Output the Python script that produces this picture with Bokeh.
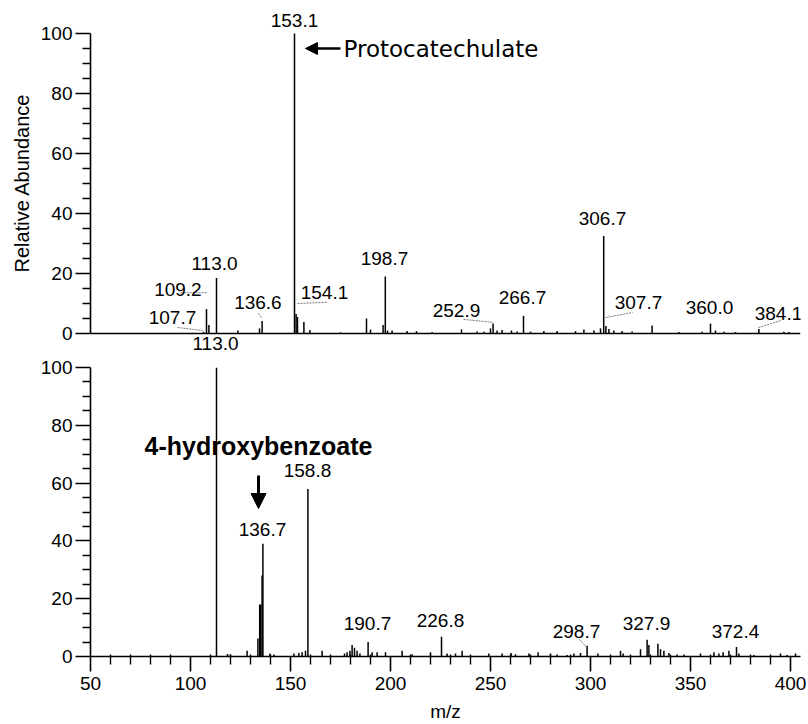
from bokeh.plotting import figure
from bokeh.layouts import column
from bokeh.models import Range1d, FixedTicker, Span, Arrow, NormalHead
from bokeh.embed import file_html
from bokeh.resources import INLINE
from bokeh.core.properties import value

# ---------------- data: upper spectrum (Protocatechulate) ----------------
top_mz = [106.5, 108.0, 109.2, 113.0, 123.7, 134.5, 135.8, 152.0, 152.8, 153.5, 156.7, 159.7,
          175.0, 188.0, 190.0, 196.3, 197.4, 198.5, 200.8, 208.3, 213.0, 220.8, 235.5, 243.3,
          246.7, 250.0, 251.3, 253.3, 255.8, 260.5, 263.3, 266.5, 270.0, 276.7, 283.3,
          292.5, 296.7, 301.7, 305.0, 306.6, 307.7, 309.2, 311.7, 315.8, 320.8, 330.8,
          344.2, 355.8, 360.0, 362.5, 366.7, 372.5, 384.2, 396.7, 399.2]
top_ab = [0.6, 8.2, 2.8, 18.5, 1.0, 1.7, 4.2, 100.0, 6.5, 5.5, 3.8, 1.2,
          0.4, 5.0, 1.3, 2.8, 19.0, 1.0, 1.0, 0.8, 0.8, 0.5, 1.4, 0.7,
          0.6, 1.7, 3.3, 1.0, 1.2, 1.0, 0.7, 5.9, 0.6, 0.8, 0.8,
          0.8, 1.3, 1.0, 1.7, 32.5, 2.5, 1.5, 1.0, 0.8, 0.7, 2.7,
          0.5, 0.6, 3.3, 1.0, 0.6, 0.5, 1.5, 0.6, 0.5]

top_lab_text = ["153.1", "113.0", "109.2", "107.7", "136.6", "154.1", "198.7",
                "252.9", "266.7", "306.7", "307.7", "360.0", "384.1"]
top_lab_x = [152.0, 112.0, 93.7, 91.0, 133.7, 167.0, 197.0,
             233.0, 266.0, 306.0, 324.0, 359.5, 394.0]
top_lab_y = [104.3, 23.3, 14.7, 5.3, 10.3, 13.7, 25.0,
             7.7, 12.0, 38.3, 10.3, 8.7, 6.7]

top_lead_x0 = [95.0, 93.5, 134.0, 153.5, 236.5, 307.5, 384.0]
top_lead_y0 = [13.6, 2.0, 6.7, 10.0, 4.7, 5.3, 2.0]
top_lead_x1 = [108.0, 106.0, 135.8, 168.0, 251.3, 321.0, 395.0]
top_lead_y1 = [13.6, 1.0, 5.0, 10.4, 3.7, 7.0, 4.3]

# ---------------- data: lower spectrum (4-hydroxybenzoate) ----------------
bot_mz = [113.0, 118.5, 120.0, 128.3, 133.7, 134.6, 135.1, 135.8, 136.2, 139.7, 141.7, 151.7, 154.2,
          155.8, 157.5, 158.7, 165.8, 177.0, 178.3, 179.7, 180.8, 182.0, 183.3, 184.7,
          188.8, 190.8, 193.3, 197.5, 205.8, 210.8, 220.0, 225.5, 228.3, 232.5, 235.8,
          249.2, 255.8, 260.3, 262.5, 269.2, 273.8, 280.0, 283.3, 288.3, 291.7, 295.0,
          298.3, 303.7, 315.0, 316.3, 325.0, 328.3, 329.2, 333.7, 335.0, 336.7, 339.2,
          343.3, 346.7, 355.0, 361.7, 364.2, 366.3, 369.2, 373.0, 374.2, 381.7, 395.0,
          398.3, 402.5]
bot_ab = [100.0, 0.9, 0.7, 2.0, 6.2, 18.0, 18.0, 28.0, 39.0, 1.0, 0.7, 1.0, 1.2,
          1.5, 2.0, 58.0, 2.0, 1.0, 1.5, 2.0, 4.0, 3.0, 2.0, 1.0,
          5.0, 1.5, 1.5, 1.5, 2.0, 0.8, 1.5, 6.8, 1.0, 1.0, 2.0,
          1.0, 1.0, 1.2, 0.8, 1.0, 1.5, 1.0, 0.7, 0.5, 1.0, 1.2,
          3.7, 1.0, 2.0, 1.0, 2.5, 5.8, 4.0, 4.4, 2.5, 2.0, 1.2,
          0.7, 0.7, 1.0, 1.5, 1.0, 1.5, 2.0, 3.3, 1.0, 0.5, 1.0,
          0.5, 1.0]

bot_lab_text = ["136.7", "158.8", "190.7", "226.8", "298.7", "327.9", "372.4"]
bot_lab_x = [136.0, 158.5, 188.5, 225.0, 293.0, 328.0, 372.5]
bot_lab_y = [43.9, 64.4, 11.4, 12.5, 8.7, 11.4, 8.7]

# label of the lower base peak, sitting in the gap between the panels
# (expressed in the upper panel's coordinates)
gap_lab_text = ["113.0"]
gap_lab_x = [112.5]
gap_lab_y = [-3.4]

bot_lead_x0 = [294.5]
bot_lead_y0 = [5.9]
bot_lead_x1 = [298.3]
bot_lead_y1 = [3.0]

# axis ticks
y_major = [0, 20, 40, 60, 80, 100]
y_minor = [v for v in range(5, 100, 5) if v % 20 != 0]
x_major = [50, 100, 150, 200, 250, 300, 350, 400]
x_minor = [v for v in range(60, 400, 10) if v % 50 != 0]

NUM_FONT = "Liberation Sans"


def style_yaxis(p):
    ax = p.yaxis[0]
    ax.bounds = (0, 100)
    ax.ticker = FixedTicker(ticks=y_major, minor_ticks=y_minor)
    ax.axis_line_width = 1.6
    ax.major_tick_line_width = 1.6
    ax.minor_tick_line_width = 1.4
    ax.major_tick_in = 0
    ax.major_tick_out = 15
    ax.minor_tick_in = 0
    ax.minor_tick_out = 8
    ax.major_label_standoff = 3
    ax.major_label_text_font = NUM_FONT
    ax.major_label_text_font_size = "19px"
    ax.major_label_text_color = "black"
    ax.axis_line_color = "black"
    ax.major_tick_line_color = "black"
    ax.minor_tick_line_color = "black"


def base_fig(height, y0, y1, btop, bbot, xaxis):
    p = figure(width=808, height=height, x_range=Range1d(50, 405), y_range=Range1d(y0, y1),
               output_backend="svg", toolbar_location=None,
               min_border_left=90, min_border_right=8,
               min_border_top=btop, min_border_bottom=bbot,
               x_axis_location=xaxis)
    p.outline_line_color = None
    p.xgrid.visible = False
    p.ygrid.visible = False
    p.background_fill_color = "white"
    p.border_fill_color = "white"
    style_yaxis(p)
    return p


# ---------------- top panel ----------------
TOP_H = 355
top_start = -(TOP_H - 333) / 3.0
top = base_fig(TOP_H, top_start, top_start + (TOP_H - 10) / 3.0, 10, 0, None)
ya = top.yaxis[0]
ya.axis_label = "Relative Abundance"
ya.axis_label_text_font = NUM_FONT
ya.axis_label_text_font_size = "20px"
ya.axis_label_text_font_style = "normal"
ya.axis_label_text_color = "black"
ya.axis_label_standoff = 5

top.add_layout(Span(location=0, dimension="width", line_color="black", line_width=1.6))
top.segment(x0=top_mz, y0=[0] * len(top_mz), x1=top_mz, y1=top_ab,
            line_color="black", line_width=1.5)
top.segment(x0=top_lead_x0, y0=top_lead_y0, x1=top_lead_x1, y1=top_lead_y1,
            line_color="#777777", line_width=1, line_dash="2 1")
top.text(x=top_lab_x, y=top_lab_y, text=top_lab_text, text_font=value(NUM_FONT),
         text_font_size=value("19px"), text_align="center", text_baseline="middle",
         text_color="black")
top.text(x=gap_lab_x, y=gap_lab_y, text=gap_lab_text, text_font=value(NUM_FONT),
         text_font_size=value("19px"), text_align="center", text_baseline="middle",
         text_color="black")
top.text(x=[176.5], y=[95.0], text=["Protocatechulate"], text_font=value("DejaVu Sans"),
         text_font_size=value("23px"), text_align="left", text_baseline="middle",
         text_color="black")
top.add_layout(Arrow(end=NormalHead(size=12, fill_color="black", line_color="black"),
                     x_start=175.0, y_start=95.0, x_end=157.5, y_end=95.0,
                     line_color="black", line_width=2.5))

# ---------------- bottom panel ----------------
BOT_H = 724 - TOP_H
BOT_TOP = 12
BOT_FRAME = 289
bot = base_fig(BOT_H, 0.0, 100.0, BOT_TOP, BOT_H - BOT_TOP - BOT_FRAME, "below")
xa = bot.xaxis[0]
xa.ticker = FixedTicker(ticks=x_major, minor_ticks=x_minor)
xa.axis_line_width = 1.6
xa.major_tick_line_width = 1.6
xa.minor_tick_line_width = 1.4
xa.major_tick_in = 0
xa.major_tick_out = 15
xa.minor_tick_in = 2
xa.minor_tick_out = 8
xa.major_label_standoff = 5
xa.major_label_text_font = NUM_FONT
xa.major_label_text_font_size = "19px"
xa.major_label_text_color = "black"
xa.axis_label = "m/z"
xa.axis_label_text_font = NUM_FONT
xa.axis_label_text_font_size = "19px"
xa.axis_label_text_font_style = "normal"
xa.axis_label_text_color = "black"
xa.axis_label_standoff = 8

bot.segment(x0=bot_mz, y0=[0] * len(bot_mz), x1=bot_mz, y1=bot_ab,
            line_color="black", line_width=1.5)
bot.segment(x0=bot_lead_x0, y0=bot_lead_y0, x1=bot_lead_x1, y1=bot_lead_y1,
            line_color="#777777", line_width=1, line_dash="2 1")
bot.text(x=bot_lab_x, y=bot_lab_y, text=bot_lab_text, text_font=value(NUM_FONT),
         text_font_size=value("19px"), text_align="center", text_baseline="middle",
         text_color="black")
bot.text(x=[134.0], y=[73.0], text=["4-hydroxybenzoate"], text_font=value(NUM_FONT),
         text_font_size=value("25px"), text_font_style="bold", text_align="center",
         text_baseline="middle", text_color="black")
bot.add_layout(Arrow(end=NormalHead(size=15, fill_color="black", line_color="black"),
                     x_start=134.0, y_start=62.6, x_end=134.0, y_end=51.2,
                     line_color="black", line_width=3))

layout = column(top, bot)
open("out.html", "w").write(file_html(layout, INLINE))
